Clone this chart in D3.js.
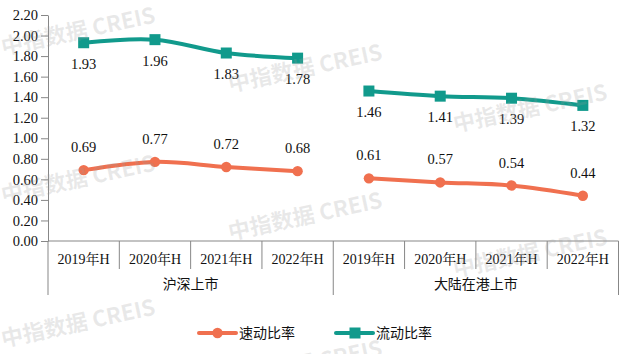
<!DOCTYPE html>
<html>
<head>
<meta charset="utf-8">
<script src="https://cdn.jsdelivr.net/npm/d3@7"></script>
<style>
  html, body { margin: 0; padding: 0; background: #fff; }
  svg { display: block; }
</style>
</head>
<body>
<svg id="chart" width="634" height="354"></svg>
<script>
// ---- Data ----
const groups = ["沪深上市", "大陆在港上市"];
const periods = ["2019年H", "2020年H", "2021年H", "2022年H"];
const quickRatio = [[0.69, 0.77, 0.72, 0.68], [0.61, 0.57, 0.54, 0.44]];   // 速动比率
const currentRatio = [[1.93, 1.96, 1.83, 1.78], [1.46, 1.41, 1.39, 1.32]]; // 流动比率
const yTicks = [0, 0.2, 0.4, 0.6, 0.8, 1.0, 1.2, 1.4, 1.6, 1.8, 2.0, 2.2];
const seriesNames = ["速动比率", "流动比率"];

(function () {
// ---- Setup ----
const svg = d3.select("#chart");
const mLeft = 48, mRight = 618.5, mTop = 15, mBottom = 241;
const ORANGE = "#f0704f", TEAL = "#119a8c", AXIS = "#878787";
const serif = "'Liberation Serif', 'Times New Roman', 'Noto Serif CJK SC', 'Noto Sans CJK SC', serif";
const cjk = "'Noto Sans CJK SC', 'Noto Sans', sans-serif";

const cats = [];
groups.forEach((g, gi) => periods.forEach(p => cats.push(gi + "|" + p)));

const x = d3.scaleBand().domain(cats).range([mLeft, mRight]).padding(0);
const y = d3.scaleLinear().domain([0, 2.2]).range([mBottom, mTop]);

// ---- Y axis ----
const yAxis = d3.axisLeft(y).tickValues(yTicks).tickFormat(d3.format(".2f"))
  .tickSize(7).tickSizeOuter(0).tickPadding(3);
const gy = svg.append("g").attr("transform", `translate(${mLeft},0)`).call(yAxis);
gy.select(".domain").attr("stroke", AXIS);
gy.selectAll(".tick line").attr("stroke", AXIS);
gy.selectAll(".tick text").attr("font-family", serif).attr("font-size", 14.5).attr("fill", "#111");

// ---- X axis (multi-level) ----
svg.append("line").attr("x1", mLeft).attr("x2", mRight).attr("y1", mBottom).attr("y2", mBottom)
  .attr("stroke", AXIS);
cats.forEach((c, i) => {
  const xx = x(c);
  const isGroupEdge = (i % periods.length === 0);
  svg.append("line").attr("x1", xx).attr("x2", xx).attr("y1", mBottom)
    .attr("y2", isGroupEdge ? 295 : 269).attr("stroke", AXIS);
});
svg.append("line").attr("x1", mRight).attr("x2", mRight).attr("y1", mBottom).attr("y2", 295).attr("stroke", AXIS);

svg.append("g").selectAll("text").data(cats).join("text")
  .attr("x", d => x(d) + x.bandwidth() / 2)
  .attr("y", 264)
  .attr("text-anchor", "middle")
  .attr("font-family", serif).attr("font-size", 14).attr("fill", "#111")
  .text(d => d.split("|")[1]);

svg.append("g").selectAll("text").data(groups).join("text")
  .attr("x", (g, gi) => {
    const first = x(gi + "|" + periods[0]);
    const last = x(gi + "|" + periods[periods.length - 1]) + x.bandwidth();
    return (first + last) / 2;
  })
  .attr("y", 289)
  .attr("text-anchor", "middle")
  .attr("font-family", cjk).attr("font-size", 14).attr("fill", "#111")
  .text(d => d);

// ---- Lines ----
const line = d3.line()
  .x(d => x(d.cat) + x.bandwidth() / 2)
  .y(d => y(d.v))
  .curve(d3.curveCatmullRom.alpha(0.5));

function pts(arr, gi) {
  return arr.map((v, i) => ({ cat: gi + "|" + periods[i], v }));
}

const plot = svg.append("g");
groups.forEach((g, gi) => {
  const q = pts(quickRatio[gi], gi);
  const c = pts(currentRatio[gi], gi);
  plot.append("path").datum(q).attr("d", line).attr("fill", "none")
    .attr("stroke", ORANGE).attr("stroke-width", 4).attr("stroke-linejoin", "round");
  plot.append("path").datum(c).attr("d", line).attr("fill", "none")
    .attr("stroke", TEAL).attr("stroke-width", 4).attr("stroke-linejoin", "round");
  plot.append("g").selectAll("circle").data(q).join("circle")
    .attr("cx", d => x(d.cat) + x.bandwidth() / 2).attr("cy", d => y(d.v))
    .attr("r", 5.2).attr("fill", ORANGE);
  plot.append("g").selectAll("rect").data(c).join("rect")
    .attr("x", d => x(d.cat) + x.bandwidth() / 2 - 5.5).attr("y", d => y(d.v) - 5.5)
    .attr("width", 11).attr("height", 11).attr("fill", TEAL);
  plot.append("g").selectAll("text").data(q).join("text")
    .attr("x", d => x(d.cat) + x.bandwidth() / 2).attr("y", d => y(d.v) - 18)
    .attr("text-anchor", "middle").attr("font-family", serif).attr("font-size", 14.5).attr("fill", "#111")
    .text(d => d.v.toFixed(2));
  plot.append("g").selectAll("text").data(c).join("text")
    .attr("x", d => x(d.cat) + x.bandwidth() / 2).attr("y", d => y(d.v) + 26)
    .attr("text-anchor", "middle").attr("font-family", serif).attr("font-size", 14.5).attr("fill", "#111")
    .text(d => d.v.toFixed(2));
});

// ---- Legend ----
const leg = svg.append("g");
const legItems = [
  { name: seriesNames[0], color: ORANGE, x0: 199, shape: "circle" },
  { name: seriesNames[1], color: TEAL, x0: 336, shape: "rect" }
];
const ly = 333;
legItems.forEach(it => {
  leg.append("line").attr("x1", it.x0).attr("x2", it.x0 + 37).attr("y1", ly).attr("y2", ly)
    .attr("stroke", it.color).attr("stroke-width", 4).attr("stroke-linecap", "round");
  if (it.shape === "circle") {
    leg.append("circle").attr("cx", it.x0 + 18.5).attr("cy", ly).attr("r", 5.2).attr("fill", it.color);
  } else {
    leg.append("rect").attr("x", it.x0 + 13.5).attr("y", ly - 5.5).attr("width", 11).attr("height", 11).attr("fill", it.color);
  }
  leg.append("text").attr("x", it.x0 + 40).attr("y", ly + 5)
    .attr("font-family", cjk).attr("font-size", 14).attr("fill", "#111").text(it.name);
});

// ---- Watermarks ----
const wmPos = [[3, 55], [3, 203], [3, 347], [230, 92], [230, 240], [230, 388], [455, 132], [455, 277]];
const wm = svg.append("g").attr("pointer-events", "none");
wmPos.forEach(([wx, wy]) => {
  wm.append("text").attr("transform", `translate(${wx},${wy}) rotate(-12)`)
    .attr("font-family", cjk).attr("font-size", 22).attr("font-weight", "bold")
    .attr("fill", "#9a9a9a").attr("fill-opacity", 0.22)
    .text("中指数据 CREIS");
});
})();
</script>
</body>
</html>
